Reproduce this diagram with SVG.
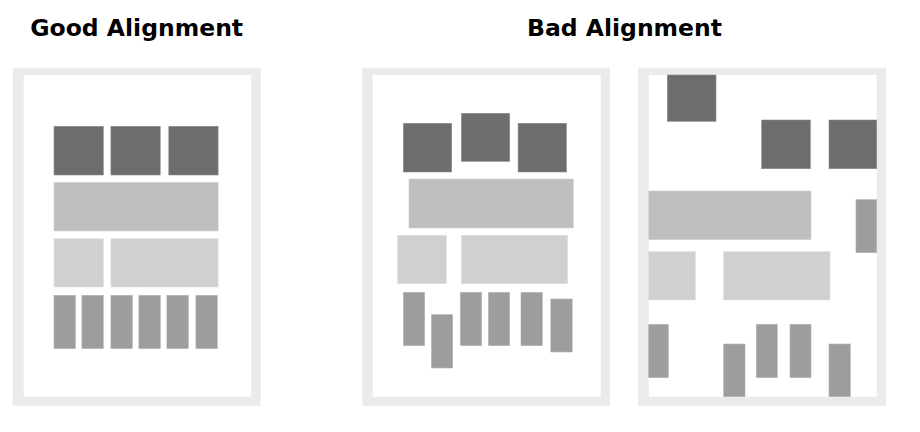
<svg xmlns="http://www.w3.org/2000/svg" width="920" height="432" viewBox="0 0 920 432">
<style>
.title{font-family:"DejaVu Sans",Verdana,sans-serif;font-weight:bold;font-size:23.5px;fill:#000;text-anchor:middle}
.frame{fill:#ebebeb;fill-rule:evenodd}
.d{fill:#6d6d6d;stroke:#8a8a8a;stroke-width:0.6}
.b{fill:#bebebe;stroke:#d2d2d2;stroke-width:0.6}
.l{fill:#d0d0d0;stroke:#dedede;stroke-width:0.6}
.t{fill:#9d9d9d;stroke:#b4b4b4;stroke-width:0.6}
</style>
<rect width="920" height="432" fill="#fff"/>
<text class="title" x="136.7" y="36">Good Alignment</text>
<text class="title" x="624.5" y="36">Bad Alignment</text>

<g id="good">
<path class="frame" d="M12.7 67.7H260.7V406H12.7Z M23.7 75V396.7H251V75Z"/>
<rect class="d" x="54" y="126.3" width="49.3" height="48.7"/>
<rect class="d" x="110.9" y="126.3" width="49.3" height="48.7"/>
<rect class="d" x="168.8" y="126.3" width="49.3" height="48.7"/>
<rect class="b" x="54" y="182.3" width="164.1" height="48.7"/>
<rect class="l" x="54" y="238.7" width="49.3" height="48.3"/>
<rect class="l" x="110.9" y="238.7" width="107.2" height="48.3"/>
<rect class="t" x="54" y="295.3" width="21.4" height="53.3"/>
<rect class="t" x="81.9" y="295.3" width="21.4" height="53.3"/>
<rect class="t" x="110.9" y="295.3" width="21.4" height="53.3"/>
<rect class="t" x="138.9" y="295.3" width="21.4" height="53.3"/>
<rect class="t" x="166.9" y="295.3" width="21.4" height="53.3"/>
<rect class="t" x="195.9" y="295.3" width="21.4" height="53.3"/>
</g>

<g id="bad1">
<path class="frame" d="M362.3 67.7H610V406H362.3Z M372.7 75V396.7H600.7V75Z"/>
<rect class="d" x="403.4" y="123.3" width="48.3" height="48.7"/>
<rect class="d" x="461.4" y="113.3" width="48.3" height="48"/>
<rect class="d" x="518.1" y="123.3" width="48.3" height="48.7"/>
<rect class="b" x="409" y="179" width="164.3" height="49"/>
<rect class="l" x="397.7" y="235.3" width="48.6" height="48.4"/>
<rect class="l" x="461.4" y="235.3" width="106.3" height="48.4"/>
<rect class="t" x="403.4" y="292.3" width="21.3" height="53.4"/>
<rect class="t" x="431.4" y="314.7" width="21.3" height="53.3"/>
<rect class="t" x="460.4" y="292.3" width="21.3" height="53.4"/>
<rect class="t" x="488.4" y="292.3" width="21.3" height="53.4"/>
<rect class="t" x="521" y="292.3" width="21.3" height="53.4"/>
<rect class="t" x="550.8" y="299" width="21.4" height="53"/>
</g>

<g id="bad2">
<path class="frame" d="M638 67.7H886V406H638Z M648.7 75V396.7H876.7V75Z"/>
<rect class="d" x="667.3" y="75" width="48.7" height="46.3"/>
<rect class="d" x="761.7" y="120" width="48.6" height="48.7"/>
<rect class="d" x="829" y="120" width="47.7" height="48.7"/>
<rect class="b" x="648.7" y="191" width="162.3" height="48.7"/>
<rect class="t" x="856" y="199.7" width="20.7" height="53"/>
<rect class="l" x="648.7" y="251.7" width="46.6" height="48.3"/>
<rect class="l" x="723.7" y="251.7" width="106.3" height="48.3"/>
<rect class="t" x="648.7" y="324.3" width="19.6" height="53.4"/>
<rect class="t" x="723.7" y="344" width="21.3" height="52.7"/>
<rect class="t" x="756.3" y="324.3" width="21" height="53.4"/>
<rect class="t" x="790" y="324.3" width="21" height="53.4"/>
<rect class="t" x="829" y="344" width="21.3" height="52.7"/>
</g>
</svg>
